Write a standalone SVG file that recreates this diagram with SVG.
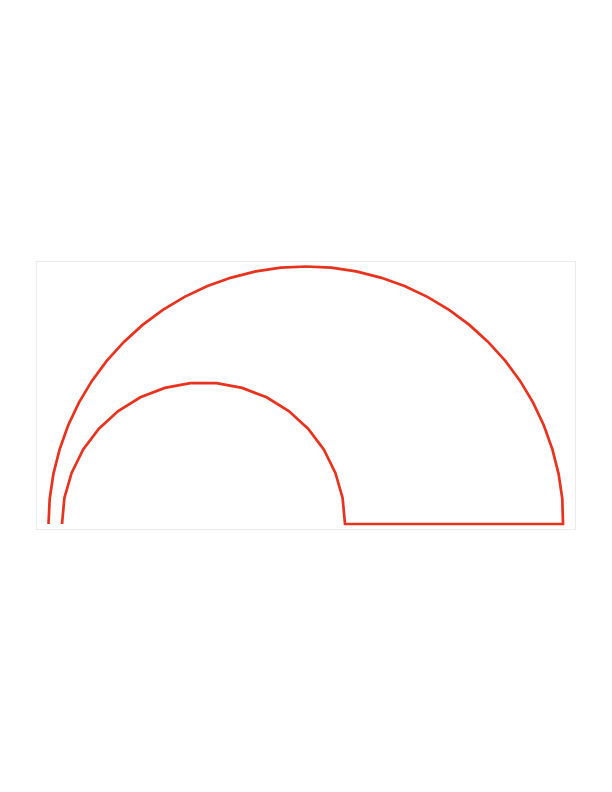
<svg xmlns="http://www.w3.org/2000/svg" width="612" height="792" viewBox="0 0 612 792">
<style>
.frame{fill:none;stroke:#ebebeb;stroke-width:1}
.curve{fill:none;stroke:#e8321e;stroke-width:2.7;stroke-linejoin:miter}
</style>
<rect width="612" height="792" fill="#ffffff"/>
<rect class="frame" x="36.5" y="261.5" width="539" height="268"/>
<g id="shape">
<polyline class="curve" points="48.5,524 49.7,498.8 53.4,473.8 59.6,449.3 68.1,425.5 78.9,402.6 91.9,380.9 106.9,360.6 123.9,341.9 142.6,324.9 162.9,309.9 184.6,296.9 207.5,286.1 231.3,277.6 255.8,271.4 280.8,267.7 306,266.5 331.2,267.7 356.2,271.4 380.7,277.6 404.5,286.1 427.4,296.9 449.1,309.9 469.4,324.9 488.1,341.9 505.1,360.6 520.1,380.9 533.1,402.6 543.9,425.5 552.4,449.3 558.6,473.8 562.3,498.8 563,524 345,524 342.6,498 335.4,472.9 323.8,449.5 308.1,428.7 288.8,411.1 266.6,397.3 242.2,387.9 216.6,383.1 190.4,383.1 164.8,387.9 140.4,397.3 118.2,411.1 98.9,428.7 83.2,449.5 71.6,472.9 64.4,498 62,524"/>
</g>
</svg>
